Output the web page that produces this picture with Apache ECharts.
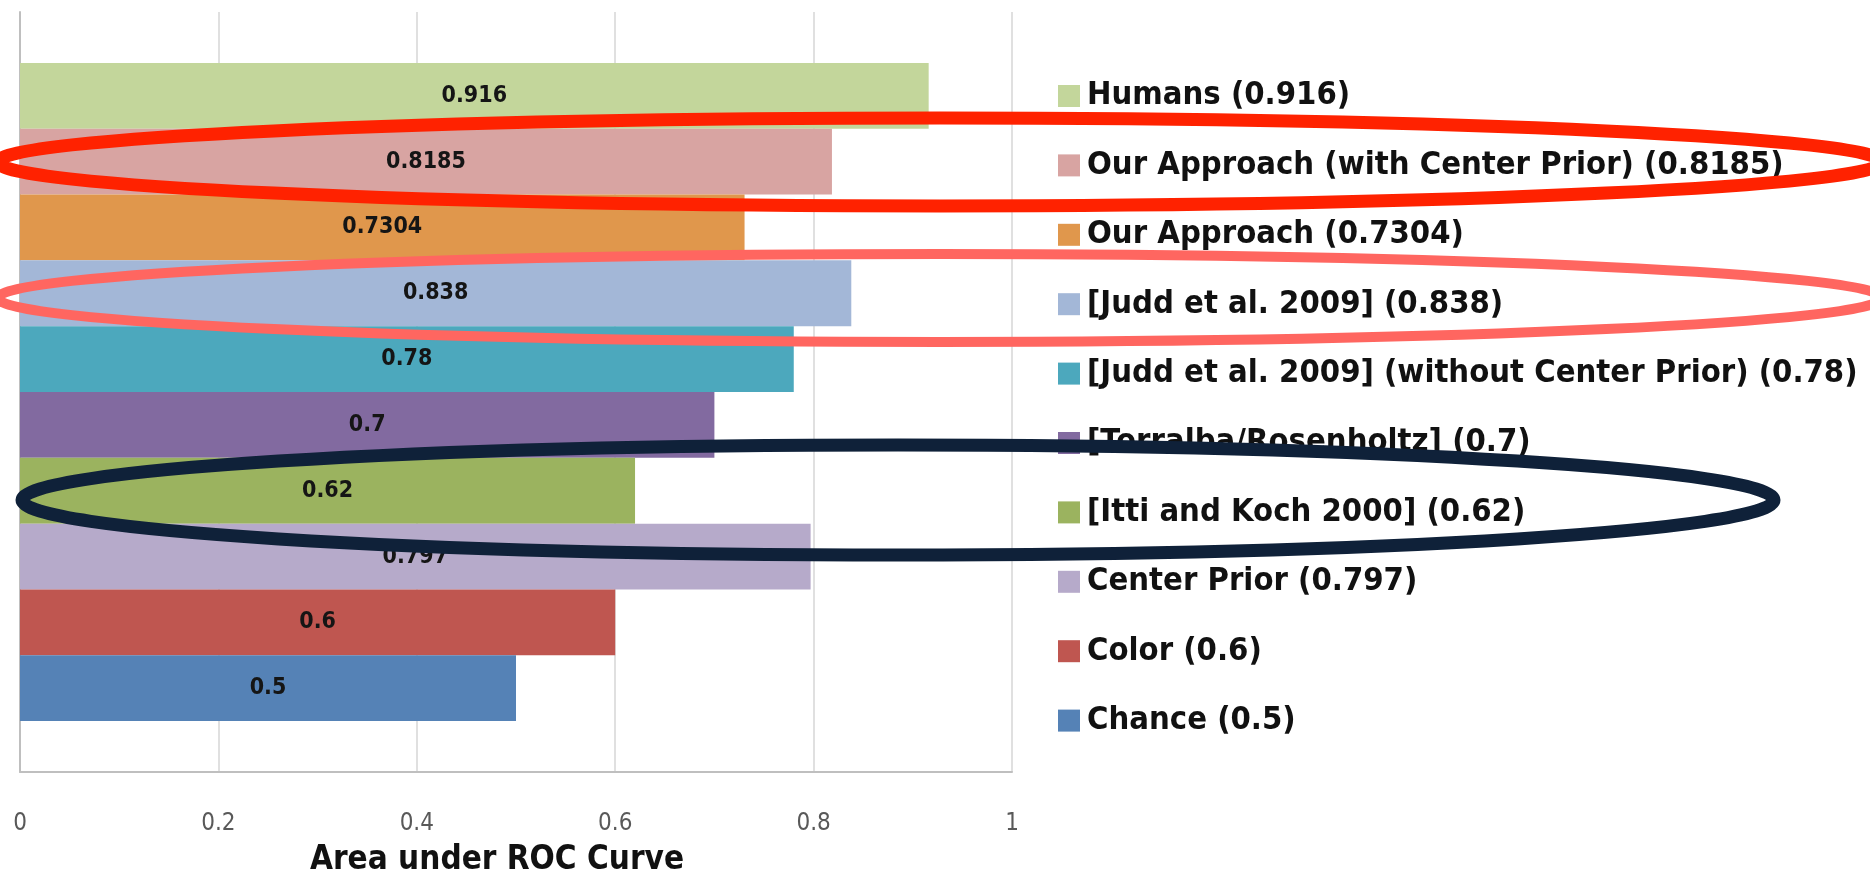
<!DOCTYPE html>
<html>
<head>
<meta charset="utf-8">
<script src="https://cdn.jsdelivr.net/npm/echarts@6/dist/echarts.min.js"></script>
<style>
  html, body { margin: 0; padding: 0; background: #ffffff; }
  #chart { width: 1870px; height: 870px; }
</style>
</head>
<body>
<div id="chart"></div>
<script>
// Methods, listed top to bottom as they appear in the chart
const methods = [
  'Humans',
  'Our Approach (with Center Prior)',
  'Our Approach',
  '[Judd et al. 2009]',
  '[Judd et al. 2009] (without Center Prior)',
  '[Torralba/Rosenholtz]',
  '[Itti and Koch 2000]',
  'Center Prior',
  'Color',
  'Chance'
];
// Area under the ROC curve for each method
const aucValues = [0.916, 0.8185, 0.7304, 0.838, 0.78, 0.7, 0.62, 0.797, 0.6, 0.5];
const barColors = [
  '#C3D69B', '#D8A4A2', '#E0974C', '#A3B7D7', '#4CA8BD',
  '#826AA0', '#9BB35F', '#B6AACA', '#BF5650', '#5582B6'
];
const xTicks = { min: 0, max: 1, step: 0.2 };
const xAxisTitle = 'Area under ROC Curve';

const FONT = '"DejaVu Sans Condensed", "DejaVu Sans", sans-serif';

const legendNames = methods.map((m, i) => m + ' (' + aucValues[i] + ')');

const series = methods.map((m, i) => ({
  name: legendNames[i],
  type: 'bar',
  data: [aucValues[i]],
  barGap: '0%',
  barCategoryGap: '13.4%',
  itemStyle: { color: barColors[i] },
  label: {
    show: true,
    position: 'inside',
    formatter: String(aucValues[i]),
    color: '#151515',
    fontFamily: FONT,
    fontWeight: 'bold',
    fontSize: 23
  },
  emphasis: { disabled: true }
}));

const chart = echarts.init(document.getElementById('chart'), null, { renderer: 'canvas' });
chart.setOption({
  animation: false,
  backgroundColor: '#ffffff',
  grid: { left: 20, right: 858, top: 12, bottom: 98, containLabel: false, outerBoundsMode: 'none' },
  legend: {
    orient: 'vertical',
    left: 1053,
    top: 73,
    data: legendNames,
    icon: 'rect',
    itemWidth: 22,
    itemHeight: 22,
    itemGap: 33.4,
    selectedMode: false,
    textStyle: {
      fontFamily: FONT,
      fontWeight: 'bold',
      fontSize: 32.5,
      lineHeight: 36,
      color: '#111111',
      padding: [0, 0, 0, 2]
    }
  },
  xAxis: {
    type: 'value',
    min: xTicks.min,
    max: xTicks.max,
    interval: xTicks.step,
    name: xAxisTitle,
    nameLocation: 'middle',
    nameGap: 72,
    nameTextStyle: {
      fontFamily: FONT,
      fontWeight: 'bold',
      fontSize: 33,
      color: '#111111',
      padding: [0, 38, 0, 0]
    },
    axisLine: { show: true, lineStyle: { color: '#BFBFBF', width: 2 } },
    axisTick: { show: false },
    axisLabel: {
      margin: 40,
      fontFamily: FONT,
      fontSize: 24,
      color: '#595959'
    },
    splitLine: { show: true, lineStyle: { color: '#D6D6D6', width: 1.5 } }
  },
  yAxis: {
    type: 'category',
    data: [''],
    axisLine: { show: true, lineStyle: { color: '#BFBFBF', width: 2 } },
    axisTick: { show: false },
    axisLabel: { show: false },
    splitLine: { show: false }
  },
  series: series,
  graphic: [
    {
      type: 'ellipse', z: 100,
      shape: { cx: 940, cy: 162, rx: 942, ry: 44 },
      style: { fill: null, stroke: '#FF2200', lineWidth: 13 }
    },
    {
      type: 'ellipse', z: 100,
      shape: { cx: 940, cy: 298, rx: 942, ry: 44 },
      style: { fill: null, stroke: '#FF6660', lineWidth: 10 }
    },
    {
      type: 'ellipse', z: 100,
      shape: { cx: 898, cy: 500, rx: 876, ry: 55 },
      style: { fill: null, stroke: '#0F2139', lineWidth: 13 }
    }
  ]
});
</script>
</body>
</html>
